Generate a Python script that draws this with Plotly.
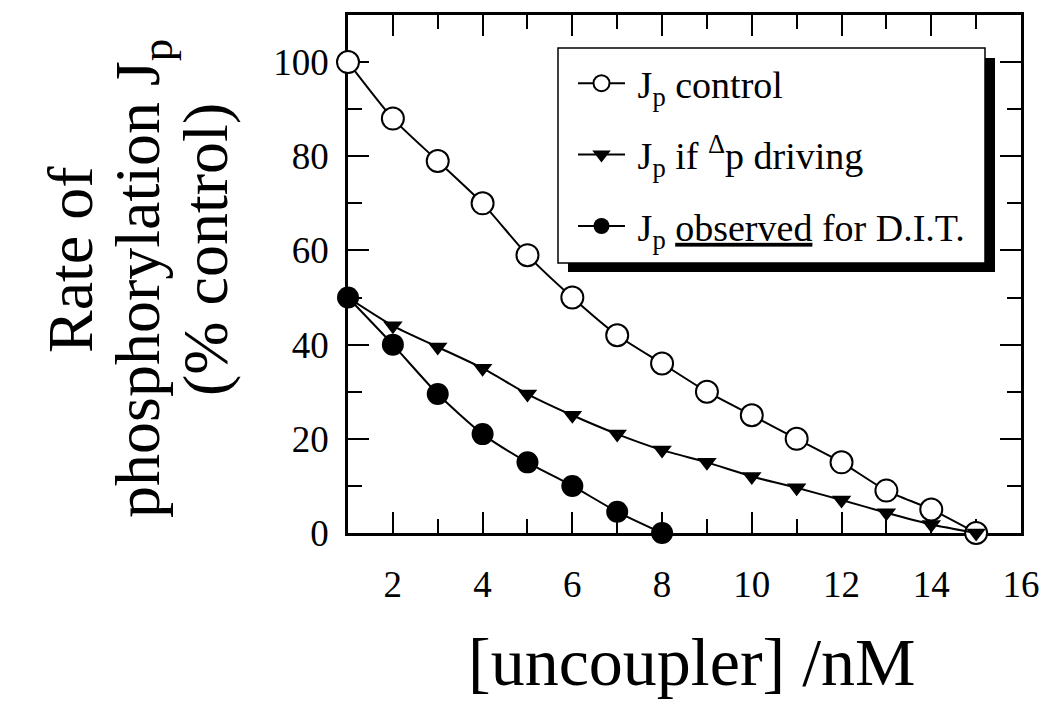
import plotly.graph_objects as go

x_control = [1, 2, 3, 4, 5, 6, 7, 8, 9, 10, 11, 12, 13, 14, 15]
jp_control = [100, 88, 79, 70, 59, 50, 42, 36, 30, 25, 20, 15, 9, 5, 0]

x_dp = [1, 2, 3, 4, 5, 6, 7, 8, 9, 10, 11, 12, 13, 14, 15]
jp_dp = [50, 44, 39.5, 35, 29.5, 25, 21, 17.6, 15, 12, 9.6, 7, 4.3, 1.8, 0]

x_dit = [1, 2, 3, 4, 5, 6, 7, 8]
jp_dit = [50, 40, 29.5, 21, 15, 10, 4.5, 0]

name_control = "\u2009J<sub>p</sub> control"
name_dp = "\u2009J<sub>p</sub> if <sup>Δ</sup>p driving"
name_dit = "\u2009J<sub>p</sub> <u>observed</u> for D.I.T."

x_title = "[uncoupler] /nM"
y_title_lines = ["Rate of", "phosphorylation J<sub>p</sub>", "(% control)"]

FONT = "Liberation Serif, Times New Roman, serif"

W, H = 1040, 704
L, T = 348, 15
R = W - 1021
B = H - 533
PW = W - L - R
PH = H - T - B


def px2x(px):
    return (px - L) / PW


def py2y(py):
    return (H - B - py) / PH


fig = go.Figure()

fig.add_trace(go.Scatter(
    x=x_control, y=jp_control, name=name_control, legendgroup="a",
    mode="lines+markers", line=dict(color="black", width=2, shape="spline", smoothing=0.6),
    marker=dict(symbol="circle", size=22, color="white", line=dict(color="black", width=2)),
    cliponaxis=False,
))
fig.add_trace(go.Scatter(
    x=x_dp, y=jp_dp, name=name_dp, legendgroup="b",
    mode="lines+markers", line=dict(color="black", width=2, shape="spline", smoothing=0.6),
    marker=dict(symbol="triangle-down", size=17, color="black", line=dict(width=0)),
    cliponaxis=False,
))
fig.add_trace(go.Scatter(
    x=x_dit, y=jp_dit, name=name_dit, legendgroup="c",
    mode="lines+markers", line=dict(color="black", width=2, shape="spline", smoothing=0.6),
    marker=dict(symbol="circle", size=22, color="black", line=dict(width=0)),
    cliponaxis=False,
))

axis_common = dict(
    showline=True, linecolor="black", linewidth=2.5, mirror="ticks",
    ticks="inside", tickcolor="black", tickwidth=1.5,
    showgrid=False, zeroline=False, layer="below traces",
    tickfont=dict(family=FONT, size=37, color="black"),
    ticklabeloverflow="allow", automargin=False,
)

fig.update_xaxes(
    range=[1, 16], tickmode="linear", tick0=2, dtick=2, ticklen=21,
    minor=dict(ticks="inside", tick0=1, dtick=1, ticklen=14, tickcolor="black", tickwidth=1.5, showgrid=False),
    ticklabelstandoff=17,
    **axis_common,
)
fig.update_yaxes(
    range=[0, 110], tickmode="linear", tick0=0, dtick=20, ticklen=21,
    minor=dict(ticks="inside", tick0=0, dtick=10, ticklen=14, tickcolor="black", tickwidth=1.5, showgrid=False),
    ticklabelstandoff=9,
    **axis_common,
)

annotations = [
    dict(text=x_title, xref="paper", yref="paper", x=px2x(692), y=py2y(662),
         xanchor="center", yanchor="middle", showarrow=False,
         font=dict(family=FONT, size=68, color="black")),
]
for txt, cx, cy in zip(y_title_lines, [70, 142, 205], [260, 278, 250]):
    annotations.append(dict(
        text=txt, xref="paper", yref="paper", x=px2x(cx), y=py2y(cy),
        xanchor="center", yanchor="middle", showarrow=False, textangle=-90,
        font=dict(family=FONT, size=64, color="black")))

shapes = [
    dict(type="rect", xref="paper", yref="paper",
         x0=px2x(568), x1=px2x(995), y0=py2y(272), y1=py2y(58),
         fillcolor="black", line=dict(width=0), layer="above"),
    dict(type="rect", xref="paper", yref="paper",
         x0=px2x(558), x1=px2x(985), y0=py2y(263), y1=py2y(48),
         fillcolor="white", line=dict(color="black", width=1.5), layer="above"),
]

fig.update_layout(
    width=W, height=H,
    margin=dict(l=L, r=R, t=T, b=B, autoexpand=False),
    paper_bgcolor="white", plot_bgcolor="white",
    showlegend=True,
    legend=dict(
        x=px2x(573), y=py2y(52), xanchor="left", yanchor="top",
        bgcolor="rgba(0,0,0,0)", borderwidth=0,
        font=dict(family=FONT, size=38, color="black"),
        itemwidth=47, tracegroupgap=19, itemclick=False, itemdoubleclick=False,
    ),
    annotations=annotations,
    shapes=shapes,
)

fig.write_html(
    "out.html",
    config={"displayModeBar": False},
    post_script="document.body.style.margin='0';",
)
